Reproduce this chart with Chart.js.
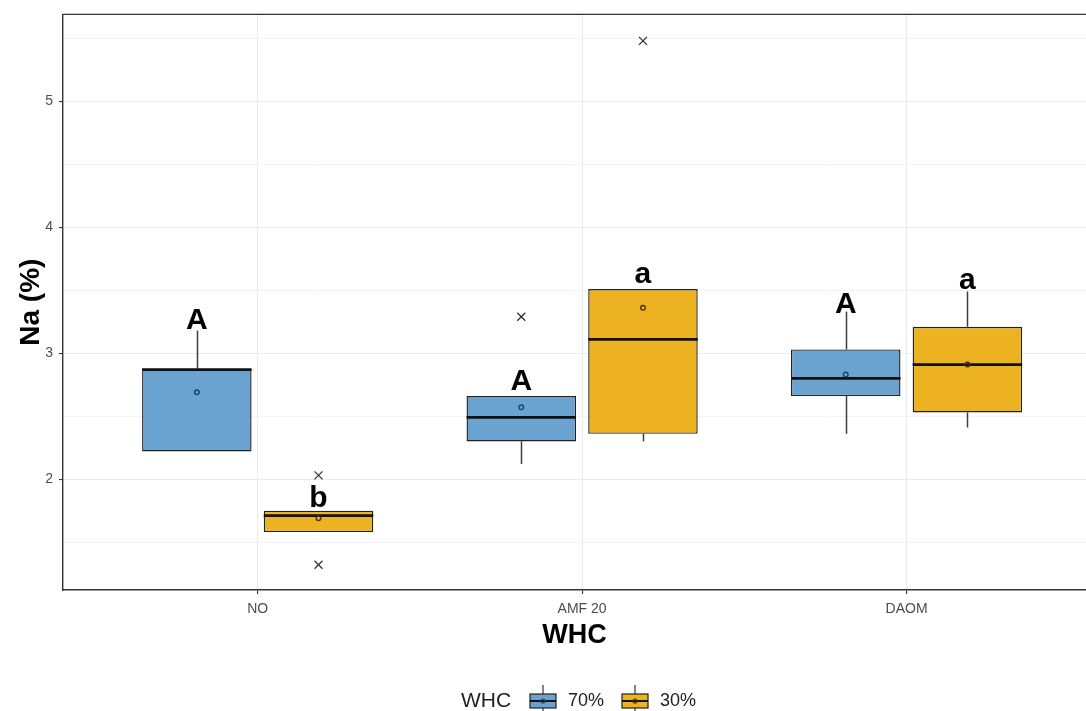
<!DOCTYPE html>
<html>
<head>
<meta charset="utf-8">
<script src="https://cdn.jsdelivr.net/npm/chart.js@4.4.1/dist/chart.umd.min.js"></script>
<style>
  html, body { margin: 0; padding: 0; background: #ffffff; overflow: hidden; }
  canvas { display: block; }
</style>
</head>
<body>
<canvas id="chart" width="1086" height="711"></canvas>
<script>
// Treatments on the x axis and the two water-holding-capacity levels
const categories = ['NO', 'AMF 20', 'DAOM'];
const seriesNames = ['70%', '30%'];
const legendTitle = 'WHC';
const xTitle = 'WHC';
const yTitle = 'Na (%)';

// y axis: labelled major ticks and unlabelled minor grid positions
const yTickValues = [2, 3, 4, 5];
const yMinorValues = [1.5, 2.5, 3.5, 4.5, 5.5];

// 70% WHC: box summaries per treatment
const q1_70 = [2.22, 2.30, 2.66];
const q3_70 = [2.87, 2.66, 3.03];
const median_70 = [2.87, 2.49, 2.80];
const lower_70 = [2.22, 2.12, 2.36];
const upper_70 = [3.18, 2.66, 3.33];
const mean_70 = [2.69, 2.57, 2.83];
const outliers_70 = [[], [3.29], []];
const letters_70 = ['A', 'A', 'A'];
const letterY_70 = [3.19, 2.71, 3.32];

// 30% WHC: box summaries per treatment
const q1_30 = [1.58, 2.36, 2.53];
const q3_30 = [1.75, 3.51, 3.21];
const median_30 = [1.71, 3.11, 2.91];
const lower_30 = [1.58, 2.30, 2.41];
const upper_30 = [1.75, 3.51, 3.49];
const mean_30 = [1.69, 3.36, 2.91];
const outliers_30 = [[2.03, 1.32], [5.48], []];
const letters_30 = ['b', 'a', 'a'];
const letterY_30 = [1.78, 3.56, 3.51];

const fills = ['#6aa3cf', '#ecb222'];
const meanStroke = ['#1d4466', '#4d3300'];
const FONT = '"Liberation Sans", Arial, Helvetica, sans-serif';

const groups = [
  { q1: q1_70, q3: q3_70, med: median_70, lo: lower_70, hi: upper_70, mean: mean_70, out: outliers_70, letters: letters_70, letterY: letterY_70 },
  { q1: q1_30, q3: q3_30, med: median_30, lo: lower_30, hi: upper_30, mean: mean_30, out: outliers_30, letters: letters_30, letterY: letterY_30 }
];

function seg(ctx, x1, y1, x2, y2) {
  ctx.beginPath();
  ctx.moveTo(x1, y1);
  ctx.lineTo(x2, y2);
  ctx.stroke();
}

// whiskers, medians, means, outliers, group letters, panel top edge and legend
const boxParts = {
  id: 'boxParts',
  beforeDatasetsDraw(chart) {
    const ctx = chart.ctx, ys = chart.scales.y;
    ctx.save();
    ctx.strokeStyle = '#3d3d3d';
    ctx.lineWidth = 1.5;
    groups.forEach((g, di) => {
      chart.getDatasetMeta(di).data.forEach((el, i) => {
        const x = Math.round(el.x) + 0.5;
        if (g.hi[i] > g.q3[i]) seg(ctx, x, ys.getPixelForValue(g.q3[i]), x, ys.getPixelForValue(g.hi[i]));
        if (g.lo[i] < g.q1[i]) seg(ctx, x, ys.getPixelForValue(g.q1[i]), x, ys.getPixelForValue(g.lo[i]));
      });
    });
    ctx.restore();
  },
  afterDatasetsDraw(chart) {
    const ctx = chart.ctx, ys = chart.scales.y;
    ctx.save();
    groups.forEach((g, di) => {
      chart.getDatasetMeta(di).data.forEach((el, i) => {
        const x = el.x, half = el.width / 2;
        // median
        ctx.strokeStyle = '#111111';
        ctx.lineWidth = 2.8;
        const my = ys.getPixelForValue(g.med[i]);
        seg(ctx, x - half, my, x + half, my);
        // mean
        ctx.strokeStyle = meanStroke[di];
        ctx.lineWidth = 1.4;
        ctx.beginPath();
        ctx.arc(x, ys.getPixelForValue(g.mean[i]), 2.3, 0, Math.PI * 2);
        ctx.stroke();
        // outliers
        ctx.strokeStyle = '#333333';
        ctx.lineWidth = 1.3;
        g.out[i].forEach(v => {
          const oy = ys.getPixelForValue(v), s = 4;
          seg(ctx, x - s, oy - s, x + s, oy + s);
          seg(ctx, x - s, oy + s, x + s, oy - s);
        });
        // letters
        ctx.fillStyle = '#000000';
        ctx.font = 'bold 30px ' + FONT;
        ctx.textAlign = 'center';
        ctx.textBaseline = 'alphabetic';
        ctx.fillText(g.letters[i], x, ys.getPixelForValue(g.letterY[i]));
      });
    });
    ctx.restore();
  },
  afterDraw(chart) {
    const ctx = chart.ctx, area = chart.chartArea;
    ctx.save();
    // panel top edge
    ctx.strokeStyle = '#333333';
    ctx.lineWidth = 1.4;
    seg(ctx, area.left, area.top, area.right, area.top);

    // legend
    const cy = 701;
    ctx.fillStyle = '#222222';
    ctx.font = '21px ' + FONT;
    ctx.textAlign = 'left';
    ctx.textBaseline = 'middle';
    ctx.fillText(legendTitle, 461, cy);
    const keyX = [530, 622];
    const textX = [568, 660];
    seriesNames.forEach((name, k) => {
      const kx = keyX[k], kw = 26, cx = kx + kw / 2;
      ctx.strokeStyle = '#444444';
      ctx.lineWidth = 1.3;
      seg(ctx, cx, cy - 16, cx, cy + 16);
      ctx.fillStyle = fills[k];
      ctx.fillRect(kx, cy - 7, kw, 14);
      ctx.strokeStyle = '#222222';
      ctx.lineWidth = 1.2;
      ctx.strokeRect(kx, cy - 7, kw, 14);
      ctx.strokeStyle = '#111111';
      ctx.lineWidth = 2;
      seg(ctx, kx, cy, kx + kw, cy);
      ctx.strokeStyle = meanStroke[k];
      ctx.lineWidth = 1.2;
      ctx.beginPath();
      ctx.arc(cx, cy, 2, 0, Math.PI * 2);
      ctx.stroke();
      ctx.fillStyle = '#222222';
      ctx.font = '18px ' + FONT;
      ctx.fillText(name, textX[k], cy);
    });
    ctx.restore();
  }
};

const isMajor = v => yTickValues.includes(v);

new Chart(document.getElementById('chart'), {
  type: 'bar',
  data: {
    datasets: groups.map((g, di) => ({
      label: seriesNames[di],
      data: categories.map((c, i) => ({ x: i + 1, y: [g.q1[i], g.q3[i]] })),
      backgroundColor: fills[di],
      borderColor: '#222222',
      borderWidth: 1.4,
      borderSkipped: false,
      categoryPercentage: 0.75,
      barPercentage: 0.9
    }))
  },
  options: {
    responsive: false,
    animation: false,
    events: [],
    layout: { padding: { left: 0, right: 0, top: 14, bottom: 56 } },
    plugins: { legend: { display: false }, tooltip: { enabled: false } },
    scales: {
      x: {
        type: 'linear',
        min: 0.4,
        max: 3.553,
        offset: false,
        afterBuildTicks: s => { s.ticks = categories.map((c, i) => ({ value: i + 1 })); },
        afterFit: s => { s.height = 65; },
        ticks: {
          autoSkip: false,
          maxRotation: 0,
          padding: 7,
          color: '#4d4d4d',
          font: { family: FONT, size: 14 },
          callback: v => categories[v - 1]
        },
        grid: { offset: false, color: '#ebebeb', lineWidth: 1.1, tickLength: 4, tickColor: '#333333' },
        border: { display: true, color: '#333333', width: 1.4 },
        title: {
          display: true, text: xTitle, color: '#000000',
          font: { family: FONT, size: 27, weight: 'bold' },
          padding: { top: 0, bottom: 3 }
        }
      },
      y: {
        min: 1.12,
        max: 5.69,
        afterBuildTicks: s => {
          s.ticks = yMinorValues.concat(yTickValues).sort((a, b) => a - b).map(v => ({ value: v }));
        },
        afterFit: s => { s.width = 63; },
        ticks: {
          autoSkip: false,
          padding: 6,
          color: '#4d4d4d',
          font: { family: FONT, size: 14 },
          callback: v => isMajor(v) ? String(v) : ''
        },
        grid: {
          color: c => (c.tick && isMajor(c.tick.value)) ? '#ebebeb' : '#f2f2f2',
          lineWidth: c => (c.tick && isMajor(c.tick.value)) ? 1.1 : 0.9,
          tickLength: 4,
          tickColor: c => (c.tick && isMajor(c.tick.value)) ? '#333333' : 'rgba(0,0,0,0)'
        },
        border: { display: true, color: '#333333', width: 1.4 },
        title: {
          display: true, text: yTitle, color: '#000000',
          font: { family: FONT, size: 28, weight: 'bold' },
          padding: { top: 14, bottom: 0 }
        }
      }
    }
  },
  plugins: [boxParts]
});
</script>
</body>
</html>
